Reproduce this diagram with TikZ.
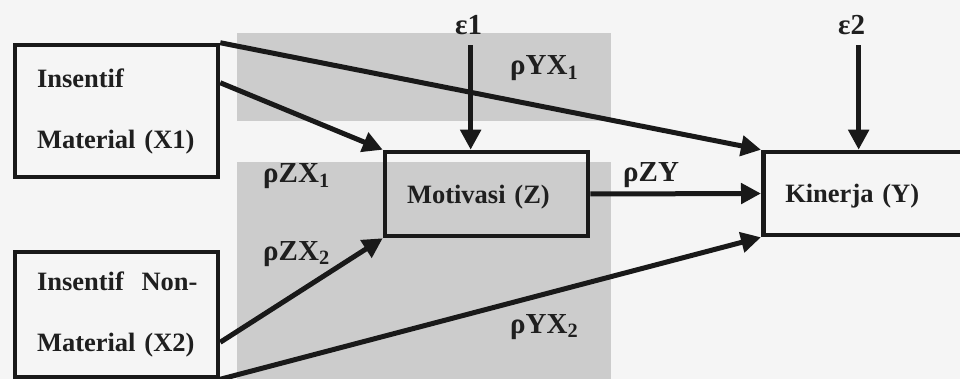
\documentclass[tikz,border=0pt]{standalone}
\usepackage{fontspec}
\setmainfont{Liberation Serif}
\usetikzlibrary{arrows.meta}

\begin{document}
\begin{tikzpicture}[x=1pt, y=-1pt,
        box/.style={
            rectangle, draw=black!90, line width=4.5pt,
            align=left, inner xsep=22pt, inner ysep=0pt,
            font=\fontsize{26.5}{61}\selectfont\bfseries, text=black!88
        },
        xbox/.style={
            box, text width=159pt
        },
        midbox/.style={
            box, text width=159pt, minimum height=84pt, text depth=0pt
        },
        ybox/.style={
            box, text width=260pt, minimum height=83pt, text depth=0pt
        },
        arrow/.style={-{Triangle[length=20pt,width=20pt]}, line width=5pt, draw=black!90},
        coef/.style={
            font=\fontsize{29}{29}\selectfont\bfseries, text=black!88,
            inner sep=0pt, anchor=base west
        },
        patch/.style={fill=black!20, draw=none},
    ]

    \useasboundingbox (0,0) rectangle (960,379);
    \clip (0,0) rectangle (960,379);
    \fill[black!4] (0,0) rectangle (960,379);

    % gray patches behind
    \path[patch] (237,33) rectangle (611,121);
    \path[patch] (237,162) rectangle (611,379);

    \node[xbox, minimum height=132pt] (xone) at (116.5,111) {Insentif\\Material (X1)};
    \node[xbox, minimum height=125pt] (xtwo) at (116.5,314.5) {\mbox{Insentif\ \ Non-}\\Material (X2)};

    \node[midbox] (motivasi) at (486.5,194) {Motivasi (Z)};
    \node[ybox, anchor=west] (kinerja) at (761,193.5) {Kinerja (Y)};

    %first set
    \draw[arrow] ([yshift=-40pt]xone.north east) -- (motivasi.north west);
    \draw[arrow] ([yshift=37pt]xtwo.south east) -- (motivasi.south west);

    %2. set
    \draw[arrow] (xone.north east) -- (kinerja.north west);
    \draw[arrow] (motivasi.east) -- (kinerja.west);
    \draw[arrow] (xtwo.south east) -- (kinerja.south west);

    % errors
    \node[coef] (eps1) at (455,35) {ε1};
    \draw[arrow, shorten <=10pt] ([xshift=2pt]eps1.south) -- ([xshift=2pt]eps1.south |- motivasi.north);

    \node[coef] (eps2) at (838,35) {ε2};
    \draw[arrow, shorten <=10pt] ([xshift=7pt]eps2.south) -- ([xshift=7pt]eps2.south |- kinerja.north);

    % path coefficients
    \node[coef] (yxone) at (510,75) {ρYX\textsubscript{1}};
    \node[coef] (zxone) at (263,183) {ρZX\textsubscript{1}};
    \node[coef] (zxtwo) at (263,260) {ρZX\textsubscript{2}};
    \node[coef] (zy) at (623,182) {ρZY};
    \node[coef] (yxtwo) at (510,333) {ρYX\textsubscript{2}};
\end{tikzpicture}
\end{document}
